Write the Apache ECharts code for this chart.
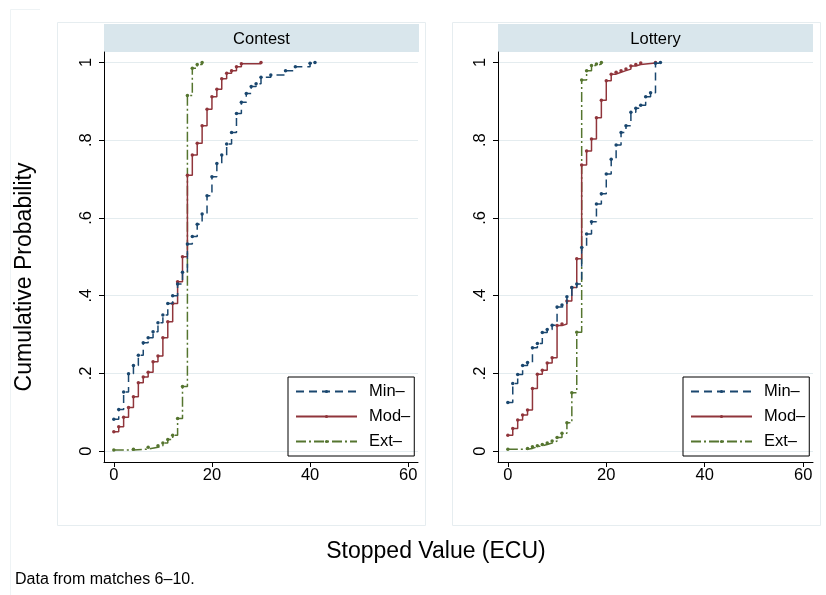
<!DOCTYPE html>
<html>
<head>
<meta charset="UTF-8">
<script src="https://cdn.jsdelivr.net/npm/echarts@6/dist/echarts.min.js"></script>
</head>
<body style="margin:0;background:#fff;">
<div id="main" style="width:826px;height:595px;"></div>
<script type="text/javascript">

    // tick values and labels
    var xTicks = [0, 20, 40, 60];
    var yTicks = [0, 0.2, 0.4, 0.6, 0.8, 1];
    var yTickLabels = ['0', '.2', '.4', '.6', '.8', '1'];
    var seriesNames = ['Min\u2013', 'Mod\u2013', 'Ext\u2013'];
    var panelNames = ['Contest', 'Lottery'];

    // Contest panel
    var contestMinX = [0,1,2,3,4,5,6,7,8,9,10,11,12,13,14,15,16,17,18,19,20,21,22,23,24,25,26,27,28,29,30,32,35,37,40,41];
    var contestMinY = [0.082,0.107,0.152,0.199,0.22,0.247,0.279,0.292,0.307,0.33,0.35,0.38,0.40,0.43,0.46,0.533,0.552,0.584,0.61,0.657,0.706,0.74,0.762,0.79,0.82,0.869,0.898,0.92,0.938,0.945,0.962,0.968,0.979,0.989,0.998,1.0];
    var contestModX = [0,1,2,3,4,5,6,7,8,9,10,11,12,13,14,15,16,17,18,19,20,21,22,23,24,25,26,30];
    var contestModY = [0.05,0.063,0.087,0.112,0.14,0.176,0.191,0.203,0.23,0.245,0.292,0.333,0.38,0.436,0.50,0.71,0.762,0.792,0.837,0.88,0.912,0.931,0.958,0.972,0.979,0.989,0.997,1.0];
    var contestExtX = [0,4,7,9,10,11,12,13,14,15,16,17,18];
    var contestExtY = [0.003,0.005,0.01,0.014,0.021,0.03,0.041,0.084,0.166,0.915,0.985,0.995,1.0];

    // Lottery panel
    var lotteryMinX = [0,1,2,3,4,5,6,7,8,9,10,11,12,13,14,15,16,17,18,19,20,21,22,23,24,25,26,27,28,29,30,31];
    var lotteryMinY = [0.125,0.174,0.197,0.22,0.228,0.266,0.277,0.305,0.313,0.324,0.371,0.376,0.397,0.421,0.43,0.524,0.559,0.59,0.636,0.662,0.713,0.751,0.788,0.82,0.837,0.872,0.882,0.89,0.912,0.922,0.998,1.0];
    var lotteryModX = [0,1,2,3,4,5,6,7,8,9,10,11,12,13,14,15,16,17,18,19,20,21,22,23,24,25,26,27,30];
    var lotteryModY = [0.041,0.058,0.08,0.093,0.106,0.161,0.198,0.208,0.227,0.24,0.323,0.327,0.386,0.421,0.495,0.736,0.772,0.803,0.858,0.903,0.953,0.97,0.975,0.979,0.983,0.991,0.995,0.999,1.0];
    var lotteryExtX = [0,4,5,6,7,8,9,10,11,12,13,14,15,16,17,18,19];
    var lotteryExtY = [0.005,0.007,0.011,0.014,0.017,0.021,0.026,0.035,0.046,0.073,0.15,0.306,0.955,0.979,0.992,0.996,1.0];

    var colors = ['#1a476f', '#90353b', '#55752f'];
    var dashes = [[8, 5], 'solid', [10, 3, 2, 3]];
    var FONT = 'Liberation Sans';

    var myChart = echarts.init(document.getElementById('main'));

    function makeX(idx) {
        return {
            type: 'value', gridIndex: idx, min: -2, max: 62,
            axisLine: {show: true, onZero: false, lineStyle: {color: '#000', width: 1}},
            axisTick: {show: true, length: 5, customValues: xTicks, lineStyle: {color: '#000'}},
            axisLabel: {customValues: xTicks, margin: 5, color: '#000', fontSize: 16.5, fontFamily: FONT},
            splitLine: {show: false}
        };
    }

    function makeY(idx) {
        return {
            type: 'value', gridIndex: idx, min: -0.028, max: 1.027,
            axisLine: {show: true, onZero: false, lineStyle: {color: '#000', width: 1}},
            axisTick: {show: true, length: 5, customValues: yTicks, lineStyle: {color: '#000'}},
            axisLabel: {
                customValues: yTicks, rotate: 90, margin: 9, color: '#000', fontSize: 16.5, fontFamily: FONT,
                formatter: function (v) {
                    for (var i = 0; i < yTicks.length; i++) {
                        if (Math.abs(yTicks[i] - v) < 1e-6) return yTickLabels[i];
                    }
                    return '';
                }
            },
            splitLine: {show: true, lineStyle: {color: '#e4ecef', width: 1}}
        };
    }

    function stepSeries(k, xs, ys, gi) {
        var d = [];
        for (var i = 0; i < xs.length; i++) d.push([xs[i], ys[i]]);
        return {
            name: seriesNames[k], type: 'line', step: 'end',
            xAxisIndex: gi, yAxisIndex: gi, data: d,
            symbol: 'circle', symbolSize: 3.5, showSymbol: true,
            color: colors[k],
            lineStyle: {color: colors[k], width: 1.5, type: dashes[k]},
            itemStyle: {color: colors[k]},
            z: 3 - k
        };
    }

    function makeLegend(left) {
        return {
            data: seriesNames, left: left, top: 377, orient: 'vertical',
            itemWidth: 61, itemHeight: 4, itemGap: 8,
            padding: [6, 4, 6, 7],
            borderColor: '#000', borderWidth: 1,
            selectedMode: false,
            textStyle: {fontSize: 16.5, lineHeight: 17, padding: [0, 0, 0, 7], color: '#000', fontFamily: FONT}
        };
    }

    var option = {
        animation: false,
        backgroundColor: '#fff',
        grid: [
            {left: 104, top: 52, width: 314, height: 410},
            {left: 498, top: 52, width: 315, height: 410}
        ],
        xAxis: [makeX(0), makeX(1)],
        yAxis: [makeY(0), makeY(1)],
        legend: [makeLegend(288), makeLegend(683)],
        series: [
            stepSeries(0, contestMinX, contestMinY, 0),
            stepSeries(1, contestModX, contestModY, 0),
            stepSeries(2, contestExtX, contestExtY, 0),
            stepSeries(0, lotteryMinX, lotteryMinY, 1),
            stepSeries(1, lotteryModX, lotteryModY, 1),
            stepSeries(2, lotteryExtX, lotteryExtY, 1)
        ],
        graphic: [
            // faint outer frame
            {type: 'polyline', shape: {points: [[40, 9.5], [10.5, 9.5], [10.5, 595]]}, style: {stroke: '#eef3f5', fill: null, lineWidth: 1}, z: -10},
            // subplot frames
            {type: 'rect', shape: {x: 57.5, y: 22.5, width: 368, height: 503}, style: {stroke: '#e6edf0', fill: null, lineWidth: 1}, z: -10},
            {type: 'rect', shape: {x: 452.5, y: 22.5, width: 368, height: 503}, style: {stroke: '#e6edf0', fill: null, lineWidth: 1}, z: -10},
            // strips
            {type: 'rect', shape: {x: 104, y: 24, width: 315, height: 28}, style: {fill: '#d9e6ec'}, z: -5},
            {type: 'rect', shape: {x: 498, y: 24, width: 315, height: 28}, style: {fill: '#d9e6ec'}, z: -5},
            {type: 'text', x: 261.5, y: 39, style: {text: panelNames[0], fill: '#000', font: '16.5px ' + FONT, align: 'center', verticalAlign: 'middle'}},
            {type: 'text', x: 655.5, y: 39, style: {text: panelNames[1], fill: '#000', font: '16.5px ' + FONT, align: 'center', verticalAlign: 'middle'}},
            // axis titles and note
            {type: 'text', x: 25, y: 277, rotation: Math.PI / 2, style: {text: 'Cumulative Probability', fill: '#000', font: '23px ' + FONT, align: 'center', verticalAlign: 'middle'}},
            {type: 'text', x: 436, y: 552, style: {text: 'Stopped Value (ECU)', fill: '#000', font: '23px ' + FONT, align: 'center', verticalAlign: 'middle'}},
            {type: 'text', x: 15, y: 580, style: {text: 'Data from matches 6\u201310.', fill: '#000', font: '16px ' + FONT, align: 'left', verticalAlign: 'middle'}}
        ]
    };

    myChart.setOption(option);

</script>
</body>
</html>
